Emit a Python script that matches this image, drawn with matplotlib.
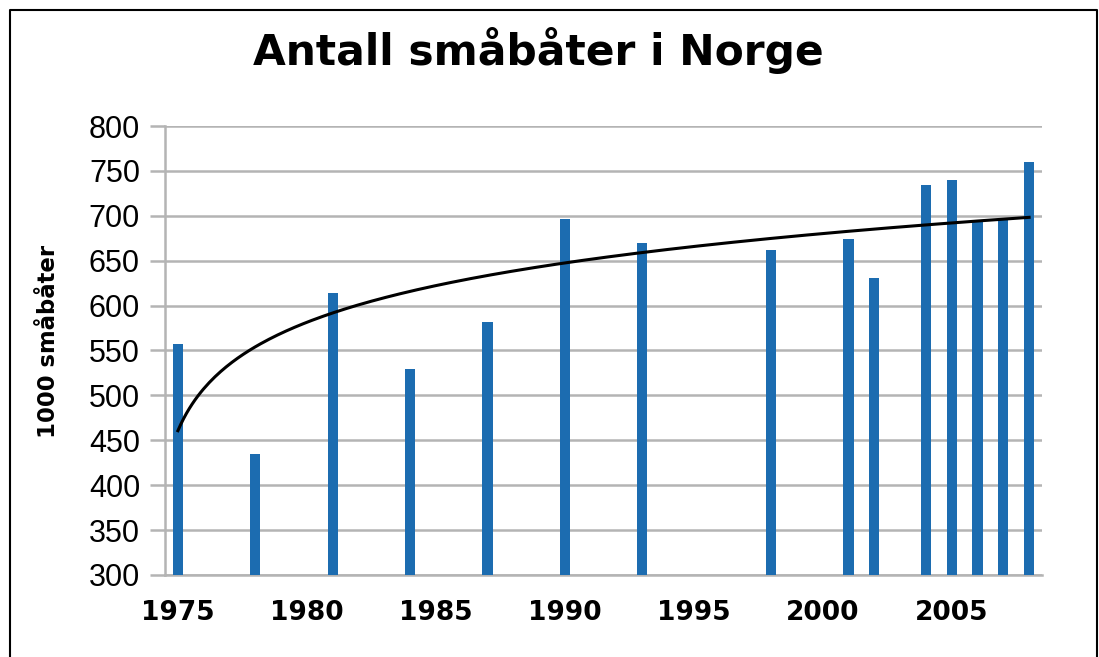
import numpy as np
import matplotlib
matplotlib.use("Agg")
import matplotlib.pyplot as plt
from matplotlib.lines import Line2D

# antall småbåter (1000) per år
years = [1975, 1978, 1981, 1984, 1987, 1990, 1993, 1998, 2001, 2002, 2004, 2005, 2006, 2007, 2008]
boats = [557, 435, 614, 529, 582, 696, 670, 662, 674, 631, 734, 740, 695, 697, 760]
xtick_years = [1975, 1980, 1985, 1990, 1995, 2000, 2005]
yticks = [300, 350, 400, 450, 500, 550, 600, 650, 700, 750, 800]

title = "Antall småbåter i Norge"
ylabel = "1000 småbåter"

W, H = 1099, 657
fig = plt.figure(figsize=(W / 100, H / 100), dpi=100)
ax = fig.add_axes([165 / W, 1 - 575 / H, (1042 - 165) / W, (575 - 126) / H])

bar_col = "#1c6cb0"
grid_col = "#b4b4b4"

ax.bar(years, [b - 300 for b in boats], bottom=300, width=0.4, color=bar_col, zorder=3)

# logaritmisk trendlinje (x = år - 1974, som i Excel)
x = np.array(years) - 1974
b, a = np.polyfit(np.log(x), boats, 1)
xs = np.linspace(1, x.max(), 300)
ax.plot(xs + 1974, a + b * np.log(xs), color="black", lw=2.2, zorder=4)

ax.set_xlim(1974.5, 2008.5)
ax.set_ylim(300, 800)
ax.set_yticks(yticks)
ax.set_xticks(xtick_years)
ax.grid(axis="y", color=grid_col, lw=1.8, zorder=0)

for s in ["top", "right"]:
    ax.spines[s].set_visible(False)
for s in ["left", "bottom"]:
    ax.spines[s].set_color(grid_col)
    ax.spines[s].set_linewidth(1.8)

ax.tick_params(axis="y", length=11, width=1.8, color=grid_col, pad=7)
ax.tick_params(axis="x", length=0, pad=18)
for lab in ax.get_yticklabels():
    lab.set_fontfamily("Liberation Sans")
    lab.set_fontsize(22)
for lab in ax.get_xticklabels():
    lab.set_fontfamily("DejaVu Sans")
    lab.set_fontweight("bold")
    lab.set_fontsize(19)

fig.text(538 / W, 1 - 65 / H, title, ha="center", va="baseline",
         fontsize=30.5, fontweight="bold", family="DejaVu Sans")
fig.text(49 / W, 1 - 341 / H, ylabel, ha="center", va="center", rotation=90,
         fontsize=16.4, fontweight="bold", family="DejaVu Sans")

# ramme rundt figuren
fx = [10 / W, 10 / W, 1097 / W, 1097 / W]
fy = [0, 1 - 10 / H, 1 - 10 / H, 0]
fig.add_artist(Line2D(fx, fy, color="black", lw=1.5, transform=fig.transFigure))

fig.savefig("out.png", dpi=100)
